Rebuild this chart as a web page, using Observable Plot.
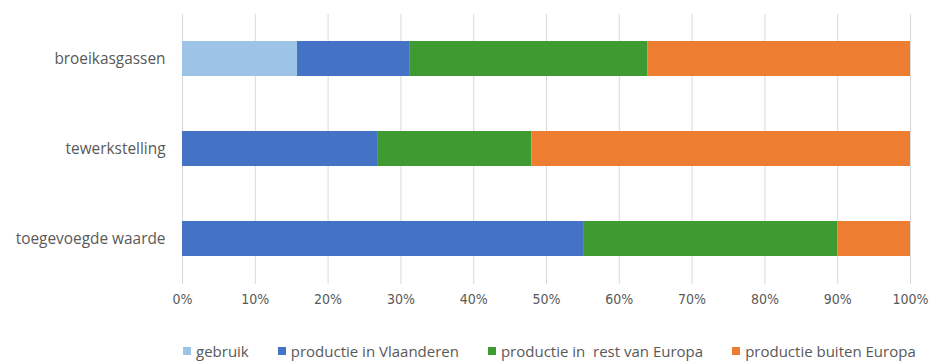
<!DOCTYPE html>
<html>
<head>
<meta charset="utf-8">
<script src="https://cdn.jsdelivr.net/npm/d3@7"></script>
<script src="https://cdn.jsdelivr.net/npm/@observablehq/plot@0.6"></script>
<style>
  html, body { margin: 0; padding: 0; background: #fff; }
  body { position: relative; width: 932px; height: 362px; }
  #legend { position: absolute; top: 341px; left: 183px; display: flex; align-items: center;
            font: 15px "Open Sans", sans-serif; color: #595959; line-height: 20px; white-space: pre; }
  #legend .item { display: flex; align-items: center; margin-right: 29px; }
  #legend .item:last-child { margin-right: 0; }
  #legend .sw { width: 8px; height: 8px; margin-right: 5px; }
</style>
</head>
<body>
<div id="chart"></div>
<div id="legend"></div>
<script>
const categories = ["broeikasgassen", "tewerkstelling", "toegevoegde waarde"];
const series = ["gebruik", "productie in Vlaanderen", "productie in  rest van Europa", "productie buiten Europa"];
const colors = ["#9dc3e6", "#4472c4", "#3f9a32", "#ed7d31"];
const gebruik = [0.158, 0, 0];
const productieVlaanderen = [0.154, 0.268, 0.552];
const productieRestEuropa = [0.327, 0.212, 0.348];
const productieBuitenEuropa = [0.361, 0.520, 0.100];
const xTicks = [0, 0.1, 0.2, 0.3, 0.4, 0.5, 0.6, 0.7, 0.8, 0.9, 1];

const seriesValues = [gebruik, productieVlaanderen, productieRestEuropa, productieBuitenEuropa];
const data = [];
series.forEach((s, si) => {
  categories.forEach((c, ci) => {
    const v = seriesValues[si][ci];
    if (v > 0) data.push({category: c, series: s, value: v});
  });
});

const chart = Plot.plot({
  width: 932,
  height: 318,
  marginTop: 14,
  marginBottom: 34,
  marginLeft: 182,
  marginRight: 22,
  style: {fontFamily: "'Open Sans', sans-serif", color: "#595959", background: "#fff"},
  x: {domain: [0, 1], ticks: xTicks, tickFormat: d => Math.round(d * 100) + "%", label: null},
  y: {domain: categories, paddingInner: 0.61, paddingOuter: 0.305, label: null},
  color: {domain: series, range: colors},
  marks: [
    Plot.gridX(xTicks, {stroke: "#d9d9d9", strokeOpacity: 1, strokeWidth: 1}),
    Plot.barX(data, {x: "value", y: "category", fill: "series", order: series}),
    Plot.axisX({ticks: xTicks, tickFormat: d => Math.round(d * 100) + "%", tickSize: 0, tickPadding: 10,
                fontSize: 14, fontFamily: "'Liberation Sans Narrow', 'DejaVu Sans Condensed', sans-serif", label: null}),
    Plot.axisY({tickSize: 0, tickPadding: 17, fontSize: 15.4, label: null})
  ]
});
document.getElementById("chart").appendChild(chart);

const legend = document.getElementById("legend");
series.forEach((s, i) => {
  const item = document.createElement("div");
  item.className = "item";
  const sw = document.createElement("span");
  sw.className = "sw";
  sw.style.background = colors[i];
  const t = document.createElement("span");
  t.textContent = s;
  item.appendChild(sw);
  item.appendChild(t);
  legend.appendChild(item);
});
</script>
</body>
</html>
